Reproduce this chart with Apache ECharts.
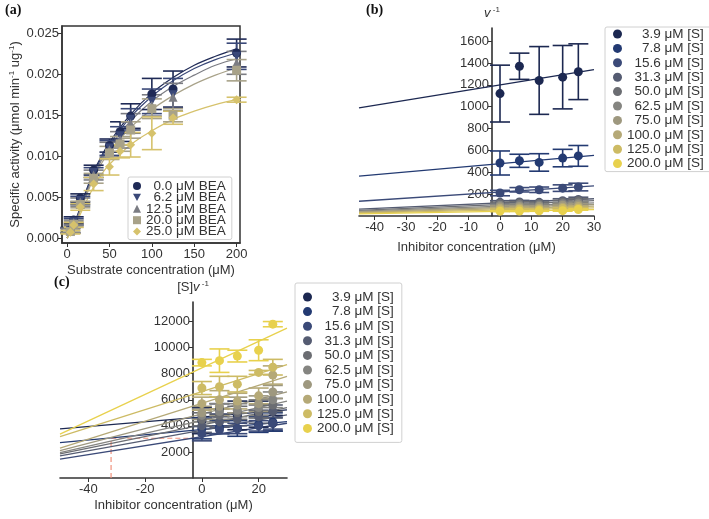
<!DOCTYPE html>
<html>
<head>
<meta charset="utf-8">
<script src="https://cdn.jsdelivr.net/npm/echarts@6/dist/echarts.min.js"></script>
<style>
  html, body { margin: 0; padding: 0; background: #fff; }
  #chart { width: 709px; height: 519px; }
</style>
</head>
<body>
<div id="chart"></div>
<script>
// (a) substrate concentration (uM) vs specific activity, one set per BEA level
const substrate = [3.9, 7.8, 15.6, 31.3, 50, 62.5, 75, 100, 125, 200]
const beaLabels = ['0.0 μM BEA', '6.2 μM BEA', '12.5 μM BEA', '20.0 μM BEA', '25.0 μM BEA']
const act00 = [0.0010, 0.0022, 0.0049, 0.0083, 0.0113, 0.0130, 0.0149, 0.0176, 0.0182, 0.0226]
const err00 = [0.0003, 0.0004, 0.0005, 0.0006, 0.0008, 0.0012, 0.0015, 0.0019, 0.0022, 0.0017]
const act62 = [0.0009, 0.0020, 0.0046, 0.0080, 0.0110, 0.0125, 0.0145, 0.0167, 0.0175, 0.0222]
const err62 = [0.0003, 0.0004, 0.0005, 0.0006, 0.0009, 0.0011, 0.0013, 0.0015, 0.0020, 0.0016]
const act125 = [0.0009, 0.0019, 0.0044, 0.0077, 0.0108, 0.0120, 0.0140, 0.0162, 0.0172, 0.0214]
const err125 = [0.0003, 0.0003, 0.0005, 0.0006, 0.0009, 0.0010, 0.0012, 0.0013, 0.0017, 0.0014]
const act200 = [0.0008, 0.0017, 0.0041, 0.0073, 0.0104, 0.0115, 0.0132, 0.0158, 0.0150, 0.0205]
const err200 = [0.0002, 0.0003, 0.0004, 0.0006, 0.0008, 0.0009, 0.0010, 0.0012, 0.0008, 0.0013]
const act250 = [0.0007, 0.0016, 0.0038, 0.0066, 0.0087, 0.0106, 0.0114, 0.0128, 0.0147, 0.0169]
const err250 = [0.0002, 0.0003, 0.0004, 0.0008, 0.0010, 0.0008, 0.0015, 0.0020, 0.0008, 0.0003]
// fitted curves, read at these substrate values
const fitX = [0, 10, 20, 30, 40, 50, 75, 100, 125, 150, 175, 200]
const fit00 = [0, 0.0022, 0.0051, 0.0078, 0.0099, 0.0117, 0.0151, 0.0177, 0.0196, 0.0211, 0.0222, 0.0231]
const fit62 = [0, 0.0021, 0.0049, 0.0076, 0.0097, 0.0114, 0.0148, 0.0173, 0.0192, 0.0207, 0.0218, 0.0226]
const fit125 = [0, 0.0020, 0.0047, 0.0073, 0.0094, 0.0111, 0.0143, 0.0167, 0.0185, 0.0199, 0.0211, 0.0219]
const fit200 = [0, 0.0019, 0.0045, 0.0070, 0.0090, 0.0106, 0.0135, 0.0157, 0.0174, 0.0188, 0.0199, 0.0208]
const fit250 = [0, 0.0017, 0.0039, 0.0060, 0.0077, 0.0090, 0.0114, 0.0131, 0.0145, 0.0155, 0.0163, 0.0169]

// (b) and (c) inhibitor concentration (uM), one set per substrate level
const inhibitor = [0, 6.2, 12.5, 20, 25]
const substrateLabels = ['3.9 μM [S]', '7.8 μM [S]', '15.6 μM [S]', '31.3 μM [S]', '50.0 μM [S]',
  '62.5 μM [S]', '75.0 μM [S]', '100.0 μM [S]', '125.0 μM [S]', '200.0 μM [S]']

// (b) 1/v
const invV = [
  [1120, 1370, 1240, 1270, 1320],
  [485, 505, 490, 530, 550],
  [210, 240, 240, 255, 265],
  [125, 128, 125, 140, 152],
  [115, 118, 115, 128, 140],
  [98, 102, 100, 112, 120],
  [85, 88, 86, 98, 104],
  [70, 74, 72, 80, 86],
  [58, 62, 60, 68, 72],
  [44, 45, 47, 49, 59]
]
const invVErr = [
  [260, 120, 310, 290, 255],
  [110, 60, 80, 80, 95],
  [25, 20, 25, 30, 35],
  [15, 15, 15, 18, 20],
  [12, 12, 12, 15, 18],
  [10, 10, 10, 12, 15],
  [9, 9, 9, 10, 12],
  [8, 8, 8, 9, 10],
  [6, 6, 6, 7, 8],
  [4, 4, 4, 5, 6]
]
// fitted lines in (b), value at the two ends of the axis
const fitBX = [-45, 30]
const fitB = [
  [990, 1340], [365, 555], [135, 275], [62, 158], [52, 140],
  [45, 120], [38, 105], [32, 90], [26, 75], [20, 58]
]

// (c) [S]/v
const sOverV = [
  [4400, 5300, 4800, 4900, 4200],
  [3800, 3900, 3800, 4100, 4300],
  [3400, 3700, 3800, 4000, 4200],
  [4000, 4300, 4500, 4700, 5100],
  [4500, 4800, 5000, 5100, 5600],
  [4800, 5100, 5200, 5400, 6000],
  [5000, 5500, 5600, 5700, 6600],
  [5700, 6000, 5900, 6300, 7900],
  [6900, 7000, 7200, 8100, 8500],
  [8850, 9000, 9350, 9800, 11800]
]
const sOverVErr = [
  [1000, 400, 1100, 1000, 600],
  [800, 500, 600, 600, 700],
  [550, 300, 400, 400, 450],
  [500, 400, 500, 500, 500],
  [500, 500, 500, 500, 500],
  [500, 600, 500, 600, 600],
  [500, 700, 600, 600, 500],
  [500, 700, 600, 600, 700],
  [500, 800, 600, 150, 600],
  [250, 900, 450, 800, 200]
]
const fitCX = [-50, 30]
const fitC = [
  [3770, 5230], [2720, 4330], [1440, 4200], [1690, 4850], [1850, 5400],
  [1950, 5900], [2100, 6600], [2300, 7800], [3180, 8700], [3360, 11500]
]
// dashed guide in (c)
const guideX = [-32, -32, 0]
const guideY = [0, 3050, 3050]

const beaColors = ['#1f2a56', '#3a4878', '#7b7c83', '#a8a289', '#d6c26c']
const beaSymbols = ['circle', 'path://M0,0L10,0L5,9Z', 'triangle', 'rect', 'diamond']
const sColors = ['#1c2851', '#233a72', '#3b4a78', '#555c72', '#6b6d72',
  '#858581', '#9e987f', '#b5a977', '#cdbb64', '#e8d14d']

const textColor = '#333'
const font = '"Liberation Sans", Arial, sans-serif'
const figureSpace = '\u2007'

function pairs (xs, ys) {
  return xs.map((x, i) => [x, ys[i]])
}
function triples (xs, ys, es) {
  return xs.map((x, i) => [x, ys[i], es[i]])
}

// vertical error bar with caps, cap is half width in px
function errorBars (cap, width) {
  return function (params, api) {
    const x = api.value(0)
    const y = api.value(1)
    const e = api.value(2)
    const lo = api.coord([x, y - e])
    const hi = api.coord([x, y + e])
    const style = { stroke: api.visual('color'), lineWidth: width, fill: null }
    return {
      type: 'group',
      children: [
        { type: 'line', shape: { x1: lo[0], y1: lo[1], x2: hi[0], y2: hi[1] }, style },
        { type: 'line', shape: { x1: lo[0] - cap, y1: lo[1], x2: lo[0] + cap, y2: lo[1] }, style },
        { type: 'line', shape: { x1: hi[0] - cap, y1: hi[1], x2: hi[0] + cap, y2: hi[1] }, style }
      ]
    }
  }
}

const series = []

// panel (a)
const actAll = [act00, act62, act125, act200, act250]
const errAll = [err00, err62, err125, err200, err250]
const fitAll = [fit00, fit62, fit125, fit200, fit250]
beaLabels.forEach((name, i) => {
  series.push({
    type: 'line', xAxisIndex: 0, yAxisIndex: 0, smooth: 0.4, showSymbol: false, silent: true,
    data: pairs(fitX, fitAll[i]),
    lineStyle: { color: beaColors[i], width: 1.2 }, z: 2
  })
  series.push({
    type: 'custom', xAxisIndex: 0, yAxisIndex: 0, renderItem: errorBars(10, 1.6),
    itemStyle: { color: beaColors[i] }, data: triples(substrate, actAll[i], errAll[i]), z: 3
  })
  series.push({
    name, type: 'scatter', xAxisIndex: 0, yAxisIndex: 0,
    symbol: beaSymbols[i], symbolSize: 9,
    itemStyle: { color: beaColors[i], opacity: 1 },
    data: pairs(substrate, actAll[i]), z: 4
  })
})

// panels (b) and (c)
substrateLabels.forEach((name, i) => {
  series.push({
    type: 'line', xAxisIndex: 1, yAxisIndex: 1, showSymbol: false, silent: true,
    data: pairs(fitBX, fitB[i]), lineStyle: { color: sColors[i], width: 1.3 }, z: 2
  })
  series.push({
    type: 'custom', xAxisIndex: 1, yAxisIndex: 1, renderItem: errorBars(10, 1.6),
    itemStyle: { color: sColors[i] }, data: triples(inhibitor, invV[i], invVErr[i]), z: 3
  })
  series.push({
    name, type: 'scatter', xAxisIndex: 1, yAxisIndex: 1, symbolSize: 9,
    itemStyle: { color: sColors[i], opacity: 1 }, data: pairs(inhibitor, invV[i]), z: 4
  })
  series.push({
    type: 'line', xAxisIndex: 2, yAxisIndex: 2, showSymbol: false, silent: true,
    data: pairs(fitCX, fitC[i]), lineStyle: { color: sColors[i], width: 1.3 }, z: 2
  })
  series.push({
    type: 'custom', xAxisIndex: 2, yAxisIndex: 2, renderItem: errorBars(10, 1.6),
    itemStyle: { color: sColors[i] }, data: triples(inhibitor, sOverV[i], sOverVErr[i]), z: 3
  })
  series.push({
    name, type: 'scatter', xAxisIndex: 2, yAxisIndex: 2, symbolSize: 9,
    itemStyle: { color: sColors[i], opacity: 1 }, data: pairs(inhibitor, sOverV[i]), z: 4
  })
})

series.push({
  type: 'line', xAxisIndex: 2, yAxisIndex: 2, showSymbol: false, silent: true,
  data: pairs(guideX, guideY),
  lineStyle: { color: '#f0917d', width: 1.2, type: [5, 3] }, z: 1
})

const supRich = {
  i: { fontStyle: 'italic', fontSize: 13, color: textColor, fontFamily: font },
  t: { fontSize: 13, color: textColor, fontFamily: font },
  s: { fontSize: 8, color: textColor, fontFamily: font, verticalAlign: 'top', padding: [0, 0, 6, 0] }
}

function axisX (grid, min, max, ticks, name, gap) {
  return {
    type: 'value', gridIndex: grid, min, max,
    axisLine: { onZero: false, lineStyle: { color: '#333', width: 1.6 } },
    axisTick: { customValues: ticks, length: 4, lineStyle: { color: '#333' } },
    axisLabel: { customValues: ticks, color: textColor, fontSize: 13, fontFamily: font, margin: 5, formatter: v => String(v) },
    splitLine: { show: false },
    name, nameLocation: 'middle', nameGap: gap,
    nameTextStyle: { color: textColor, fontSize: 13, fontFamily: font }
  }
}

function axisY (grid, min, max, ticks, offset, name, fmt) {
  return {
    type: 'value', gridIndex: grid, min, max, offset,
    axisLine: { onZero: false, lineStyle: { color: '#222', width: 1.5 } },
    axisTick: { customValues: ticks, length: 4, lineStyle: { color: '#333' } },
    axisLabel: { customValues: ticks, color: textColor, fontSize: 13, fontFamily: font, margin: 3, formatter: fmt },
    splitLine: { show: false },
    name, nameLocation: 'end', nameGap: 8,
    nameTextStyle: { rich: supRich }
  }
}

// numbers are padded with figure spaces so they line up on the right
function legendFor (labels, icons, box, size, gap) {
  const digits = s => s.split(' ')[0].replace('.', '').length
  const most = Math.max(...labels.map(digits))
  return Object.assign({
    orient: 'vertical', itemGap: gap,
    backgroundColor: '#fff', borderColor: '#d0d0d0', borderWidth: 1, borderRadius: 2,
    data: labels.map((n, i) => ({ name: n, icon: icons[i] })),
    formatter: n => figureSpace.repeat(most - digits(n)) + n,
    textStyle: { color: textColor, fontSize: size, fontFamily: font }
  }, box)
}

const option = {
  animation: false,
  backgroundColor: '#fff',
  textStyle: { fontFamily: font },
  graphic: [
    { type: 'text', left: 5, top: 3, style: { text: '(a)', font: 'bold 14px "Liberation Serif", serif', fill: '#111' } },
    { type: 'text', left: 366, top: 3, style: { text: '(b)', font: 'bold 14px "Liberation Serif", serif', fill: '#111' } },
    { type: 'text', left: 54, top: 275, style: { text: '(c)', font: 'bold 14px "Liberation Serif", serif', fill: '#111' } }
  ],
  grid: [
    { left: 62, top: 26, width: 178, height: 217, show: true, borderColor: '#333', borderWidth: 1.5 },
    { left: 359, top: 28, width: 235, height: 188 },
    { left: 60, top: 302, width: 227, height: 176 }
  ],
  xAxis: [
    axisX(0, -6, 204, [0, 50, 100, 150, 200], 'Substrate concentration (μM)', 21),
    axisX(1, -45, 30, [-40, -30, -20, -10, 0, 10, 20, 30], 'Inhibitor concentration (μM)', 25),
    axisX(2, -50, 30, [-40, -20, 0, 20], 'Inhibitor concentration (μM)', 21)
  ],
  yAxis: [
    Object.assign(axisY(0, -0.0006, 0.0259, [0, 0.005, 0.01, 0.015, 0.02, 0.025], 0,
      '{t|Specific activity (μmol min}{s|-1}{t| ug}{s|-1}{t|)}', v => v.toFixed(3)), {
      nameLocation: 'middle', nameGap: 40, nameRotate: 90,
      axisLine: { onZero: false, lineStyle: { color: '#333', width: 1.5 } }
    }),
    axisY(1, 0, 1720, [200, 400, 600, 800, 1000, 1200, 1400, 1600], -133, '{i|v}{s| -1}', v => String(v)),
    axisY(2, 0, 13500, [2000, 4000, 6000, 8000, 10000, 12000], -133, '{t|[S]}{i|v}{s| -1}', v => String(v))
  ],
  legend: [
    legendFor(beaLabels, beaSymbols,
      { left: 128, top: 177, padding: [2, 6, 1, 5], itemWidth: 8, itemHeight: 8 }, 13.5, -2.6),
    legendFor(substrateLabels, substrateLabels.map(() => 'circle'),
      { left: 605, top: 27, padding: [0, 8, 1, 8], itemWidth: 9, itemHeight: 9 }, 13.5, 0.4),
    legendFor(substrateLabels, substrateLabels.map(() => 'circle'),
      { left: 295, top: 283, padding: [7, 8, 7, 8], itemWidth: 9, itemHeight: 9 }, 13.5, 0.6)
  ],
  series
}

const chart = echarts.init(document.getElementById('chart'))
chart.setOption(option)
</script>
</body>
</html>
